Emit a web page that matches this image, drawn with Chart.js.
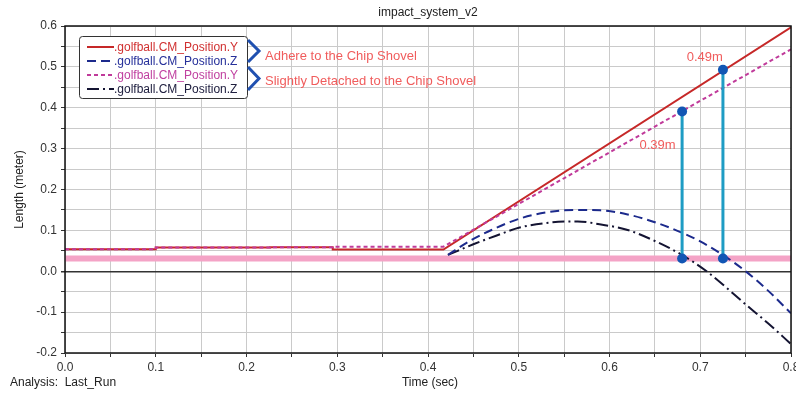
<!DOCTYPE html>
<html>
<head>
<meta charset="utf-8">
<script src="https://cdn.jsdelivr.net/npm/chart.js@4.4.1/dist/chart.umd.min.js"></script>
<style>
  body { margin: 0; background: #fff; }
  canvas { display: block; }
</style>
</head>
<body>
<canvas id="impact" width="796" height="396"></canvas>
<script>
// values (time in sec, length in meter)
var tAdhereY = [0, 0.1, 0.1, 0.226, 0.226, 0.295, 0.295, 0.417, 0.8];
var adhereY = [0.054, 0.054, 0.058, 0.058, 0.059, 0.059, 0.053, 0.053, 0.597];
var tAdhereZ = [0.422, 0.446, 0.47, 0.5, 0.53, 0.56, 0.59, 0.62, 0.65, 0.68, 0.70, 0.727, 0.75, 0.775, 0.8];
var adhereZ = [0.040, 0.074, 0.101, 0.128, 0.144, 0.150, 0.149, 0.139, 0.120, 0.094, 0.073, 0.037, 0.000, -0.048, -0.103];
var tDetachY = [0, 0.1, 0.1, 0.226, 0.226, 0.295, 0.295, 0.417, 0.8];
var detachY = [0.054, 0.054, 0.058, 0.058, 0.059, 0.059, 0.060, 0.060, 0.543];
var tDetachZ = [0.422, 0.45, 0.475, 0.501, 0.534, 0.565, 0.589, 0.62, 0.65, 0.679, 0.707, 0.75, 0.775, 0.8];
var detachZ = [0.040, 0.066, 0.087, 0.107, 0.119, 0.122, 0.115, 0.101, 0.074, 0.041, 0.000, -0.081, -0.128, -0.178];

var groundLevel = 0.031;
var markTime = [0.68, 0.725];
var markHeight = [0.391, 0.493];
var markText = ['0.39m', '0.49m'];
var markTextPos = [[0.653, 0.307], [0.705, 0.524]];

var seriesNames = ['.golfball.CM_Position.Y', '.golfball.CM_Position.Z', '.golfball.CM_Position.Y', '.golfball.CM_Position.Z'];
var groupNames = ['Adhere to the Chip Shovel', 'Slightly Detached to the Chip Shovel'];

var colors = ['#c62828', '#1c2a8c', '#c03a9a', '#141432'];
var textColors = ['#d03030', '#26309a', '#c040a0', '#202040'];
var dashes = [[], [9, 5], [4, 3], [12, 4, 2, 4]];
var FONT = '"Liberation Sans", Arial, sans-serif';

function pts(xs, ys) {
    return xs.map(function (x, i) { return { x: x, y: ys[i] }; });
}

var datasets = [
    { data: pts([0, 0.8], [groundLevel, groundLevel]), borderColor: '#f4a3c6', borderWidth: 6, pointRadius: 0, order: 10 },
    { data: pts(tAdhereY, adhereY), borderColor: colors[0], borderWidth: 2, pointRadius: 0, order: 5 },
    { data: pts(tAdhereZ, adhereZ), borderColor: colors[1], borderWidth: 2, borderDash: dashes[1], pointRadius: 0, tension: 0.4, cubicInterpolationMode: 'monotone', order: 5 },
    { data: pts(tDetachY, detachY), borderColor: colors[2], borderWidth: 2, borderDash: dashes[2], pointRadius: 0, order: 4 },
    { data: pts(tDetachZ, detachZ), borderColor: colors[3], borderWidth: 2, borderDash: dashes[3], pointRadius: 0, tension: 0.4, cubicInterpolationMode: 'monotone', order: 5 }
];
markTime.forEach(function (t, i) {
    datasets.push({
        data: pts([t, t], [groundLevel, markHeight[i]]),
        borderColor: '#1e9cc4', borderWidth: 3,
        pointRadius: 5, pointBackgroundColor: '#1256b4', pointBorderColor: '#1256b4', pointBorderWidth: 0,
        order: 1
    });
});

function tickLabel(value) {
    var v = Math.round(value * 100);
    if (v % 10 !== 0) return '';
    return (v / 100).toFixed(1);
}

var extras = {
    id: 'extras',
    afterDraw: function (chart) {
        var c = chart.ctx, a = chart.chartArea;
        var xs = chart.scales.x, ys = chart.scales.y;
        c.save();
        // frame
        c.strokeStyle = '#111';
        c.lineWidth = 1.5;
        c.strokeRect(a.left, a.top, a.right - a.left, a.bottom - a.top);

        // titles
        c.fillStyle = '#222';
        c.font = '12px ' + FONT;
        c.textBaseline = 'middle';
        c.textAlign = 'center';
        c.fillText('impact_system_v2', (a.left + a.right) / 2, 13);
        c.fillText('Time (sec)', (a.left + a.right) / 2 + 2, 383);
        c.textAlign = 'left';
        c.fillText('Analysis:  Last_Run', 10, 383);
        c.save();
        c.translate(20, (a.top + a.bottom) / 2);
        c.rotate(-Math.PI / 2);
        c.textAlign = 'center';
        c.fillText('Length (meter)', 0, 0);
        c.restore();

        // legend box
        c.fillStyle = '#fff';
        c.strokeStyle = '#333';
        c.lineWidth = 1;
        c.beginPath();
        c.roundRect(79.5, 36.5, 168, 62, 3);
        c.fill();
        c.stroke();
        var rows = [47, 61, 75, 89];
        c.font = '12px ' + FONT;
        c.textAlign = 'left';
        rows.forEach(function (y, i) {
            c.strokeStyle = colors[i];
            c.lineWidth = 2;
            c.setLineDash(dashes[i]);
            c.beginPath();
            c.moveTo(87, y);
            c.lineTo(114, y);
            c.stroke();
            c.setLineDash([]);
            c.fillStyle = textColors[i];
            c.fillText(seriesNames[i], 114, y + 1);
        });

        // chevrons and group notes
        c.strokeStyle = '#2050b0';
        c.lineWidth = 3;
        [[40, 62], [67, 90]].forEach(function (r) {
            c.beginPath();
            c.moveTo(248, r[0]);
            c.lineTo(259, (r[0] + r[1]) / 2);
            c.lineTo(248, r[1]);
            c.stroke();
        });
        c.fillStyle = '#f05c5c';
        c.font = '13px ' + FONT;
        c.fillText(groupNames[0], 265, 56);
        c.fillText(groupNames[1], 265, 81);

        // height labels
        c.textAlign = 'center';
        markText.forEach(function (s, i) {
            c.fillText(s, xs.getPixelForValue(markTextPos[i][0]), ys.getPixelForValue(markTextPos[i][1]));
        });
        c.restore();
    }
};

new Chart(document.getElementById('impact'), {
    type: 'line',
    data: { datasets: datasets },
    options: {
        responsive: false,
        animation: false,
        events: [],
        layout: { padding: { top: 26, right: 4, left: 0, bottom: 0 } },
        plugins: { legend: { display: false }, tooltip: { enabled: false }, title: { display: false } },
        scales: {
            x: {
                type: 'linear', min: 0, max: 0.8,
                afterFit: function (s) { s.height = 43; s.paddingLeft = 0; s.paddingRight = 0; },
                ticks: { stepSize: 0.05, autoSkip: false, maxRotation: 0, padding: 3, color: '#333', font: { family: FONT, size: 12 }, callback: tickLabel },
                grid: { color: '#cacaca', tickColor: '#333', tickLength: 4 },
                border: { display: false }
            },
            y: {
                type: 'linear', min: -0.2, max: 0.6,
                afterFit: function (s) { s.width = 65; },
                ticks: { stepSize: 0.05, autoSkip: false, padding: 4, color: '#333', font: { family: FONT, size: 12 }, callback: tickLabel },
                grid: {
                    color: function (ctx) { return ctx.tick && Math.abs(ctx.tick.value) < 1e-9 ? '#333' : '#cacaca'; },
                    lineWidth: function (ctx) { return ctx.tick && Math.abs(ctx.tick.value) < 1e-9 ? 1.5 : 1; },
                    tickColor: '#333', tickLength: 4
                },
                border: { display: false }
            }
        }
    },
    plugins: [extras]
});
</script>
</body>
</html>
